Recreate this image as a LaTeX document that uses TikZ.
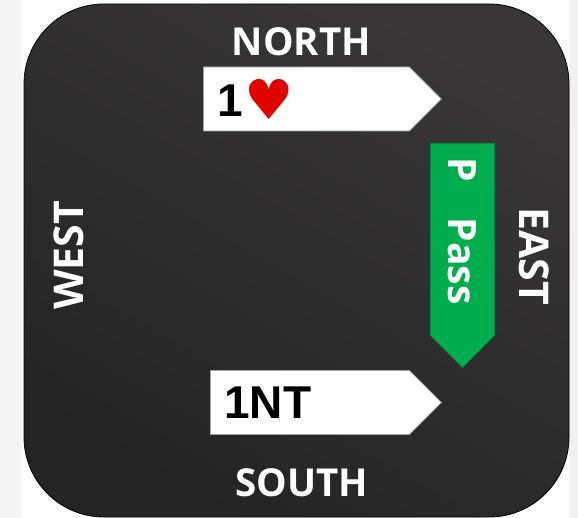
\documentclass[tikz,border=0pt]{standalone}
\usepackage{fontspec}
\setmainfont{Open Sans}
\newfontface\bidfont{Liberation Sans Bold}
\newfontfamily\suitfont{DejaVu Sans}
\usepackage{tikz}
\usetikzlibrary{shapes.symbols, positioning}
\usepackage{xcolor}
\definecolor{boardtop}{RGB}{56, 54, 54}
\definecolor{boardbottom}{RGB}{36, 36, 36}
\definecolor{passgreen}{RGB}{0, 173, 78}
\definecolor{heartred}{RGB}{224, 0, 0}
\definecolor{paneleft}{RGB}{245, 245, 246}
\definecolor{paneright}{RGB}{240, 240, 241}

\begin{document}
\begin{tikzpicture}[x=1pt, y=-1pt,
    seat/.style={font=\fontsize{38.5}{42}\selectfont\bfseries, text=white, inner sep=0pt},
    sideseat/.style={seat, font=\fontsize{41}{44}\selectfont\bfseries},
    bid/.style={signal, signal to=east, signal pointer angle=90, draw=gray!75, line width=0.8pt, fill=white, minimum height=64pt, inner xsep=14pt, inner ysep=0pt, align=left, anchor=west, font=\fontsize{46}{50}\selectfont},
    pass/.style={bid, draw=passgreen!80!black, fill=passgreen, text=white, rotate=-90, font=\fontsize{39}{44}\selectfont\bfseries}
]
\useasboundingbox (0,0) rectangle (578,518);
\fill[paneleft] (0,0) rectangle (22,518);
\fill[paneright] (569,0) rectangle (578,518);
\node[draw=black, line width=0.8pt, rounded corners=80pt, top color=boardtop, bottom color=boardbottom, shading angle=-30, minimum width=545pt, minimum height=513pt, inner sep=0pt] (board) at (296.5,260.5) {};

\node[seat] (north) at (301.5,42) {NORTH};
\node[seat] (south) at (301.5,483) {SOUTH};
\node[sideseat, rotate=90] (west) at (68.5,255.5) {WEST};
\node[sideseat, rotate=-90] (east) at (534,256) {EAST};

\node[bid, text width=178pt] (bidnorth) at (203,99) {{\bidfont 1}\hspace{2pt}{\suitfont\fontsize{55}{50}\selectfont\color{heartred}\raisebox{-3pt}{♥}}};
\node[bid, text width=171pt] (bidsouth) at (210,402.5) {\bidfont 1NT};
\node[pass, text width=164pt] (bideast) at (462.5,143) {P\hspace{36pt}Pass};
\end{tikzpicture}
\end{document}
